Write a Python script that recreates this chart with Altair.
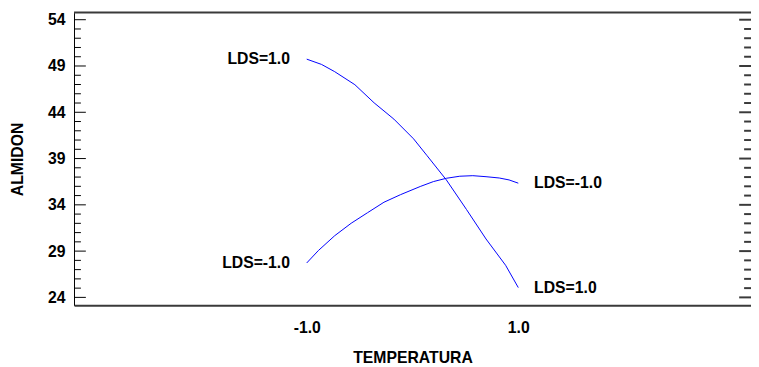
import altair as alt
import pandas as pd

# Curve LDS=1.0
temp_pos = [-1.0, -0.86, -0.736, -0.545, -0.363, -0.176, 0.01, 0.135, 0.32, 0.51, 0.695, 0.88, 1.0]
almidon_pos = [49.74, 49.17, 48.39, 46.98, 45.02, 43.26, 41.13, 39.35, 36.69, 33.5, 30.31, 27.47, 25.06]
# Curve LDS=-1.0
temp_neg = [-1.0, -0.89, -0.736, -0.58, -0.425, -0.27, -0.113, 0.073, 0.197, 0.32, 0.447, 0.57, 0.695, 0.82, 0.913, 1.0]
almidon_neg = [27.72, 29.06, 30.66, 32.01, 33.15, 34.28, 35.1, 35.98, 36.51, 36.87, 37.09, 37.15, 37.04, 36.9, 36.69, 36.34]

# End labels
label_text = ["LDS=1.0", "LDS=-1.0", "LDS=-1.0", "LDS=1.0"]
label_x = [-1.0, -1.0, 1.0, 1.0]
label_y = [49.74, 27.72, 36.34, 25.06]
label_side = ["left", "left", "right", "right"]

x_ticks = [-1.0, 1.0]
y_major = [24, 29, 34, 39, 44, 49, 54]
y_minor = [v for v in range(24, 55) if v not in y_major]

W, H = 687, 297
FONT = "Liberation Sans"
FS = 16

curves = pd.DataFrame(
    {"TEMPERATURA": temp_pos + temp_neg,
     "ALMIDON": almidon_pos + almidon_neg,
     "serie": ["LDS=1.0"] * len(temp_pos) + ["LDS=-1.0"] * len(temp_neg),
     "orden": list(range(len(temp_pos))) + list(range(len(temp_neg)))}
)
labels = pd.DataFrame({"t": label_text, "x": label_x, "y": label_y, "side": label_side})
majors = pd.DataFrame({"v": y_major})
minors = pd.DataFrame({"v": y_minor})

xscale = alt.Scale(domain=[-3.2, 3.2], nice=False, zero=False)
yscale = alt.Scale(domain=[23.15, 54.77], nice=False, zero=False)

lines = alt.Chart(curves).mark_line(color="#0000ff", strokeWidth=1).encode(
    x=alt.X("TEMPERATURA:Q", scale=xscale,
            axis=alt.Axis(values=x_ticks, ticks=False, tickSize=0, grid=False,
                          labelExpr="(datum.value < 0 ? '-' : '') + format(abs(datum.value), '.1f')",
                          domainColor="#3a3a3a", domainWidth=2,
                          labelFont=FONT, labelFontSize=FS, labelFontWeight="bold", labelColor="black",
                          labelPadding=15,
                          title="TEMPERATURA", titleFont=FONT, titleFontSize=FS, titleFontWeight="bold",
                          titleColor="black", titlePadding=14)),
    y=alt.Y("ALMIDON:Q", scale=yscale,
            axis=alt.Axis(values=y_major, ticks=False, tickSize=0, grid=False,
                          domainColor="black", domainWidth=1,
                          labelFont=FONT, labelFontSize=FS, labelFontWeight="bold", labelColor="black",
                          labelPadding=9,
                          title="ALMIDON", titleFont=FONT, titleFontSize=FS, titleFontWeight="bold",
                          titleColor="black", titlePadding=22)),
    detail="serie:N",
    order="orden:Q",
)

lab_left = alt.Chart(labels).transform_filter(alt.datum.side == "left").mark_text(
    align="right", baseline="middle", dx=-17, font=FONT, fontSize=FS, fontWeight="bold", color="black"
).encode(x=alt.X("x:Q", scale=xscale), y=alt.Y("y:Q", scale=yscale), text="t:N")

lab_right = alt.Chart(labels).transform_filter(alt.datum.side == "right").mark_text(
    align="left", baseline="middle", dx=16, font=FONT, fontSize=FS, fontWeight="bold", color="black"
).encode(x=alt.X("x:Q", scale=xscale), y=alt.Y("y:Q", scale=yscale), text="t:N")

maj_l = alt.Chart(majors).mark_rule(color="black", strokeWidth=1).encode(
    y=alt.Y("v:Q", scale=yscale), x=alt.value(0), x2=alt.value(12))
min_l = alt.Chart(minors).mark_rule(color="black", strokeWidth=1).encode(
    y=alt.Y("v:Q", scale=yscale), x=alt.value(0), x2=alt.value(7))
maj_r = alt.Chart(majors).mark_rule(color="#3a3a3a", strokeWidth=2).encode(
    y=alt.Y("v:Q", scale=yscale), x=alt.value(W - 12), x2=alt.value(W))
min_r = alt.Chart(minors).mark_rule(color="#3a3a3a", strokeWidth=2).encode(
    y=alt.Y("v:Q", scale=yscale), x=alt.value(W - 7), x2=alt.value(W))

top = alt.Chart(majors.head(1)).mark_rule(color="#3a3a3a", strokeWidth=2).encode(
    y=alt.value(0), x=alt.value(0), x2=alt.value(W))

chart = alt.layer(lines, lab_left, lab_right, maj_l, min_l, maj_r, min_r, top).properties(
    width=W, height=H,
    autosize=alt.AutoSizeParams(type="none"),
    padding={"left": 67, "top": 2, "right": 0, "bottom": 60},
    background="white",
).configure_view(stroke=None)

chart.save("out.html", embed_options={"renderer": "svg", "actions": False})
